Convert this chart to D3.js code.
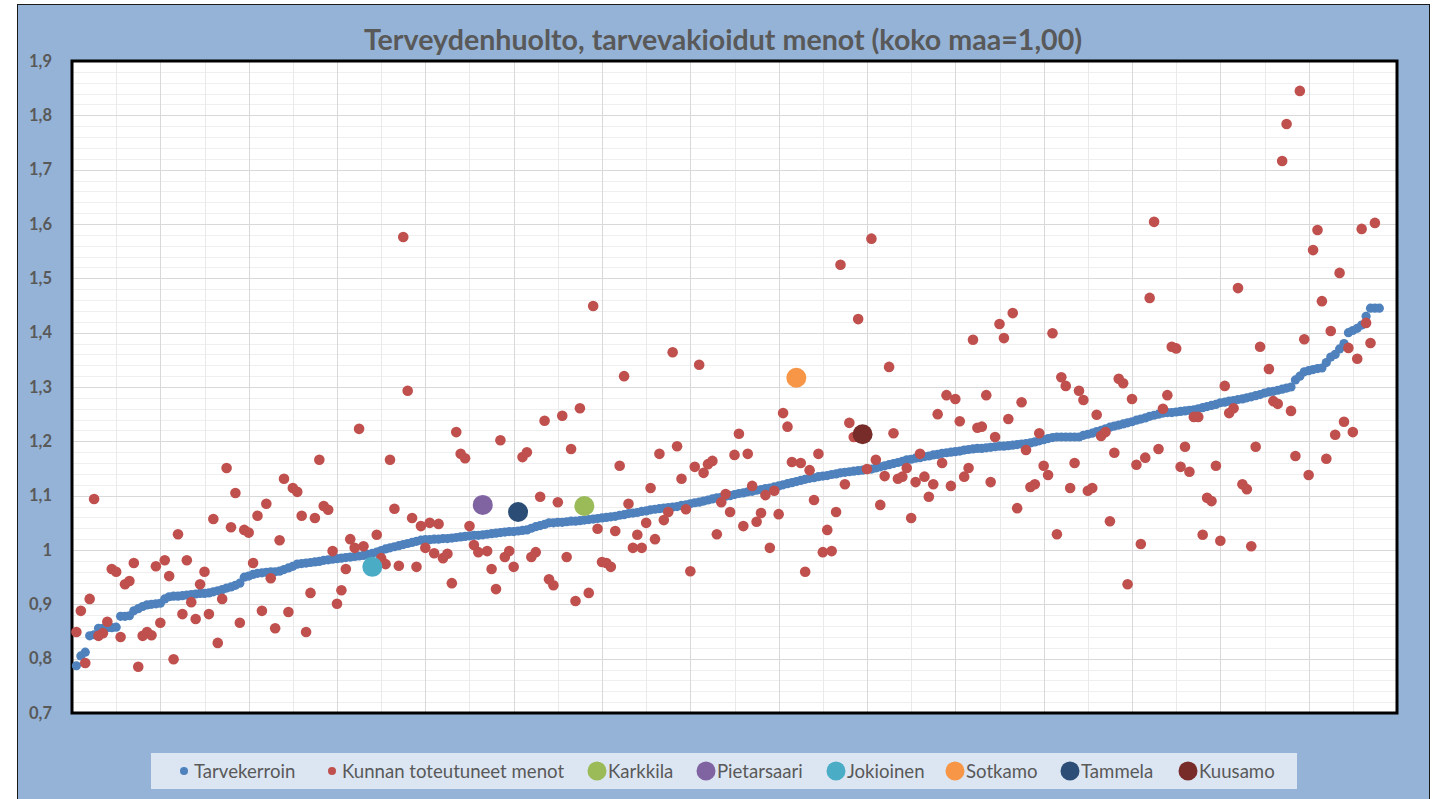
<!DOCTYPE html>
<html>
<head>
<meta charset="utf-8">
<script src="https://cdn.jsdelivr.net/npm/d3@7"></script>
<style>
  body { margin: 0; background: #fff; }
  svg { display: block; }
  text { font-family: Lato, 'Open Sans', sans-serif; }
</style>
</head>
<body>
<div id="chart"></div>
<script>
const chartTitle = 'Terveydenhuolto, tarvevakioidut menot (koko maa=1,00)';

// Tarvekerroin, kunnat järjestyksessä (1..296)
const tarvekerroin = [
  0.787, 0.805, 0.812, 0.842, 0.844, 0.856, 0.856, 0.857, 0.857, 0.858,
  0.878, 0.878, 0.879, 0.888, 0.892, 0.896, 0.899, 0.900, 0.901, 0.902,
  0.910, 0.914, 0.915, 0.915, 0.916, 0.917, 0.918, 0.919, 0.920, 0.920,
  0.921, 0.923, 0.925, 0.927, 0.930, 0.932, 0.935, 0.939, 0.950, 0.952,
  0.955, 0.957, 0.958, 0.959, 0.960, 0.960, 0.961, 0.964, 0.967, 0.970,
  0.974, 0.975, 0.976, 0.977, 0.978, 0.979, 0.981, 0.982, 0.983, 0.984,
  0.985, 0.986, 0.987, 0.988, 0.989, 0.990, 0.992, 0.994, 0.996, 0.999,
  1.002, 1.004, 1.006, 1.008, 1.010, 1.012, 1.014, 1.016, 1.018, 1.019,
  1.019, 1.020, 1.020, 1.021, 1.021, 1.022, 1.023, 1.024, 1.025, 1.026,
  1.027, 1.027, 1.028, 1.029, 1.030, 1.031, 1.032, 1.033, 1.034, 1.034,
  1.035, 1.036, 1.037, 1.040, 1.043, 1.045, 1.047, 1.050, 1.050, 1.051,
  1.051, 1.052, 1.053, 1.053, 1.054, 1.055, 1.056, 1.057, 1.058, 1.059,
  1.060, 1.061, 1.062, 1.064, 1.065, 1.067, 1.068, 1.069, 1.071, 1.072,
  1.074, 1.075, 1.076, 1.077, 1.078, 1.079, 1.080, 1.082, 1.083, 1.085,
  1.087, 1.088, 1.090, 1.092, 1.094, 1.096, 1.097, 1.099, 1.100, 1.102,
  1.104, 1.105, 1.107, 1.108, 1.110, 1.111, 1.113, 1.114, 1.116, 1.118,
  1.120, 1.122, 1.124, 1.126, 1.128, 1.130, 1.132, 1.133, 1.135, 1.136,
  1.137, 1.139, 1.140, 1.142, 1.143, 1.144, 1.145, 1.146, 1.147, 1.148,
  1.149, 1.151, 1.153, 1.155, 1.157, 1.159, 1.161, 1.163, 1.166, 1.167,
  1.169, 1.170, 1.172, 1.173, 1.175, 1.176, 1.178, 1.179, 1.180, 1.181,
  1.182, 1.184, 1.185, 1.186, 1.187, 1.187, 1.188, 1.189, 1.190, 1.191,
  1.191, 1.192, 1.193, 1.194, 1.195, 1.196, 1.197, 1.199, 1.201, 1.203,
  1.205, 1.207, 1.208, 1.208, 1.208, 1.208, 1.208, 1.208, 1.211, 1.213,
  1.215, 1.218, 1.220, 1.223, 1.226, 1.228, 1.230, 1.232, 1.234, 1.236,
  1.239, 1.241, 1.243, 1.246, 1.248, 1.250, 1.252, 1.253, 1.253, 1.254,
  1.255, 1.256, 1.257, 1.258, 1.260, 1.262, 1.264, 1.266, 1.268, 1.271,
  1.272, 1.274, 1.275, 1.277, 1.278, 1.280, 1.282, 1.284, 1.286, 1.289,
  1.291, 1.292, 1.294, 1.296, 1.298, 1.300, 1.313, 1.320, 1.328, 1.330,
  1.332, 1.334, 1.335, 1.345, 1.355, 1.360, 1.370, 1.380, 1.400, 1.404,
  1.408, 1.414, 1.430, 1.445, 1.445, 1.445
];

// Kunnan toteutuneet menot: [järjestysnumero, arvo]
const menot = [
  [1, 0.849], [2, 0.888], [3, 0.792], [4, 0.910], [5, 1.094], [6, 0.842], [7, 0.847], [8, 0.868],
  [9, 0.965], [10, 0.960], [11, 0.840], [12, 0.937], [13, 0.943], [14, 0.976], [15, 0.785], [16, 0.842],
  [17, 0.849], [18, 0.843], [19, 0.970], [20, 0.866], [21, 0.981], [22, 0.952], [23, 0.799], [24, 1.029],
  [25, 0.882], [26, 0.981], [27, 0.904], [28, 0.873], [29, 0.937], [30, 0.960], [31, 0.882], [32, 1.057],
  [33, 0.829], [34, 0.910], [35, 1.151], [36, 1.042], [37, 1.105], [38, 0.866], [39, 1.037], [40, 1.032],
  [41, 0.976], [42, 1.063], [43, 0.888], [44, 1.085], [45, 0.948], [46, 0.856], [47, 1.018], [48, 1.131],
  [49, 0.886], [50, 1.114], [51, 1.107], [52, 1.063], [53, 0.849], [54, 0.921], [55, 1.059], [56, 1.166],
  [57, 1.081], [58, 1.074], [59, 0.998], [60, 0.901], [61, 0.926], [62, 0.965], [63, 1.020], [64, 1.004],
  [65, 1.223], [66, 1.007], [69, 1.028], [70, 0.985], [71, 0.974], [72, 1.166], [73, 1.076], [74, 0.971],
  [75, 1.576], [76, 1.293], [77, 1.059], [78, 0.969], [79, 1.044], [80, 1.004], [81, 1.050], [82, 0.994],
  [83, 1.048], [84, 0.985], [85, 0.993], [86, 0.939], [87, 1.217], [88, 1.177], [89, 1.169], [90, 1.044],
  [91, 1.009], [92, 0.996], [94, 0.998], [95, 0.965], [96, 0.928], [97, 1.202], [98, 0.987], [99, 0.998],
  [100, 0.969], [102, 1.171], [103, 1.180], [104, 0.987], [105, 0.996], [106, 1.098], [107, 1.238], [108, 0.946],
  [109, 0.935], [110, 1.088], [111, 1.247], [112, 0.987], [113, 1.186], [114, 0.906], [115, 1.261], [117, 0.921],
  [118, 1.449], [119, 1.039], [120, 0.978], [121, 0.976], [122, 0.969], [123, 1.035], [124, 1.155], [125, 1.320],
  [126, 1.085], [127, 1.004], [128, 1.028], [129, 1.004], [130, 1.050], [131, 1.114], [132, 1.020], [133, 1.177],
  [134, 1.055], [135, 1.070], [136, 1.364], [137, 1.191], [138, 1.131], [139, 1.075], [140, 0.961], [141, 1.153],
  [142, 1.341], [143, 1.142], [144, 1.158], [145, 1.164], [146, 1.029], [147, 1.088], [148, 1.103], [149, 1.070],
  [150, 1.175], [151, 1.214], [152, 1.044], [153, 1.177], [154, 1.118], [155, 1.052], [156, 1.068], [157, 1.101],
  [158, 1.004], [159, 1.109], [160, 1.066], [161, 1.252], [162, 1.227], [163, 1.162], [165, 1.160], [166, 0.960],
  [167, 1.147], [168, 1.092], [169, 1.177], [170, 0.996], [171, 1.037], [172, 0.998], [173, 1.070], [174, 1.525],
  [175, 1.121], [176, 1.234], [177, 1.208], [178, 1.425], [180, 1.149], [181, 1.573], [182, 1.166], [183, 1.083],
  [184, 1.136], [185, 1.337], [186, 1.215], [187, 1.131], [188, 1.135], [189, 1.151], [190, 1.059], [191, 1.125],
  [192, 1.177], [193, 1.135], [194, 1.098], [195, 1.121], [196, 1.250], [197, 1.160], [198, 1.285], [199, 1.118],
  [200, 1.278], [201, 1.237], [202, 1.135], [203, 1.151], [204, 1.387], [205, 1.225], [206, 1.227], [207, 1.285],
  [208, 1.125], [209, 1.208], [210, 1.416], [211, 1.390], [212, 1.241], [213, 1.436], [214, 1.077], [215, 1.272],
  [216, 1.184], [217, 1.116], [218, 1.121], [219, 1.215], [220, 1.155], [221, 1.138], [222, 1.399], [223, 1.029],
  [224, 1.318], [225, 1.302], [226, 1.114], [227, 1.160], [228, 1.293], [229, 1.276], [230, 1.109], [231, 1.114],
  [232, 1.249], [233, 1.210], [234, 1.217], [235, 1.053], [236, 1.179], [237, 1.315], [238, 1.307], [239, 0.937],
  [240, 1.278], [241, 1.157], [242, 1.011], [243, 1.170], [244, 1.464], [245, 1.604], [246, 1.186], [247, 1.260],
  [248, 1.285], [249, 1.374], [250, 1.371], [251, 1.153], [252, 1.190], [253, 1.144], [254, 1.245], [255, 1.245],
  [256, 1.028], [257, 1.096], [258, 1.090], [259, 1.155], [260, 1.017], [261, 1.302], [262, 1.252], [263, 1.261],
  [264, 1.482], [265, 1.121], [266, 1.112], [267, 1.007], [268, 1.190], [269, 1.374], [271, 1.333], [272, 1.274],
  [273, 1.269], [274, 1.716], [275, 1.784], [276, 1.256], [277, 1.173], [278, 1.845], [279, 1.388], [280, 1.138],
  [281, 1.552], [282, 1.589], [283, 1.458], [284, 1.168], [285, 1.403], [286, 1.212], [287, 1.510], [288, 1.236],
  [289, 1.372], [290, 1.217], [291, 1.352], [292, 1.591], [293, 1.418], [294, 1.381], [295, 1.602]
];

// Korostetut kunnat
const kunnat = ['Karkkila', 'Pietarsaari', 'Jokioinen', 'Sotkamo', 'Tammela', 'Kuusamo'];
const kuntaNro = [116, 93, 68, 164, 101, 179];
const kuntaMenot = [1.081, 1.083, 0.969, 1.317, 1.070, 1.213];
const kuntaColors = ['#9BBB59', '#8064A2', '#4BACC6', '#F79646', '#2C4D75', '#772C2A'];

const seriesNames = ['Tarvekerroin', 'Kunnan toteutuneet menot'];
const seriesColors = ['#4F81BD', '#C0504D'];

const yTicks = [0.7, 0.8, 0.9, 1.0, 1.1, 1.2, 1.3, 1.4, 1.5, 1.6, 1.7, 1.8, 1.9];
const yTickLabels = ['0,7', '0,8', '0,9', '1', '1,1', '1,2', '1,3', '1,4', '1,5', '1,6', '1,7', '1,8', '1,9'];

const W = 1438, H = 799;
const plot = { left: 72, right: 1397, top: 61, bottom: 713 };

const svg = d3.select('#chart').append('svg')
  .attr('width', W)
  .attr('height', H);

// chart frame
svg.append('rect')
  .attr('x', 17.5).attr('y', 4.5)
  .attr('width', 1412).attr('height', 830)
  .attr('fill', '#95B3D7')
  .attr('stroke', '#1a1a1a')
  .attr('stroke-width', 1);

const x = d3.scaleLinear().domain([0, 300]).range([plot.left, plot.right]);
const y = d3.scaleLinear().domain([0.7, 1.9]).range([plot.bottom, plot.top]);

svg.append('rect')
  .attr('x', plot.left).attr('y', plot.top)
  .attr('width', plot.right - plot.left).attr('height', plot.bottom - plot.top)
  .attr('fill', '#fff');

// minor grid first, then major
const grid = svg.append('g').attr('class', 'grid');
grid.selectAll('.hminor')
  .data(d3.range(0.72, 1.9, 0.02).filter(v => Math.abs(v * 10 - Math.round(v * 10)) > 0.01))
  .join('line')
  .attr('x1', plot.left).attr('x2', plot.right)
  .attr('y1', d => Math.round(y(d)) + 0.5).attr('y2', d => Math.round(y(d)) + 0.5)
  .attr('stroke', '#EFEFEF');
grid.selectAll('.vminor')
  .data(d3.range(10, 300, 20))
  .join('line')
  .attr('y1', plot.top).attr('y2', plot.bottom)
  .attr('x1', d => Math.round(x(d)) + 0.5).attr('x2', d => Math.round(x(d)) + 0.5)
  .attr('stroke', '#EAEAEA');
grid.selectAll('.hmajor')
  .data(yTicks.slice(1, -1))
  .join('line')
  .attr('x1', plot.left).attr('x2', plot.right)
  .attr('y1', d => Math.round(y(d)) + 0.5).attr('y2', d => Math.round(y(d)) + 0.5)
  .attr('stroke', '#D9D9D9');
grid.selectAll('.vmajor')
  .data(d3.range(20, 300, 20))
  .join('line')
  .attr('y1', plot.top).attr('y2', plot.bottom)
  .attr('x1', d => Math.round(x(d)) + 0.5).attr('x2', d => Math.round(x(d)) + 0.5)
  .attr('stroke', '#D9D9D9');

// y axis labels
const yAxis = d3.axisLeft(y)
  .tickValues(yTicks)
  .tickSize(0)
  .tickPadding(20)
  .tickFormat((d, i) => yTickLabels[i]);

svg.append('g')
  .attr('class', 'y-axis')
  .attr('transform', `translate(${plot.left},0)`)
  .call(yAxis)
  .call(g => g.select('.domain').remove())
  .selectAll('text')
  .style('font-family', 'Lato, sans-serif')
  .style('font-size', '16.5px')
  .style('font-weight', 'bold')
  .style('fill', '#595959');

// plot border
svg.append('rect')
  .attr('x', plot.left).attr('y', plot.top)
  .attr('width', plot.right - plot.left).attr('height', plot.bottom - plot.top)
  .attr('fill', 'none')
  .attr('stroke', '#000')
  .attr('stroke-width', 3);

// Tarvekerroin
svg.append('g').selectAll('circle')
  .data(tarvekerroin)
  .join('circle')
  .attr('cx', (d, i) => x(i + 1))
  .attr('cy', d => y(d))
  .attr('r', 4.6)
  .attr('fill', seriesColors[0]);

// Kunnan toteutuneet menot
svg.append('g').selectAll('circle')
  .data(menot)
  .join('circle')
  .attr('cx', d => x(d[0]))
  .attr('cy', d => y(d[1]))
  .attr('r', 5.3)
  .attr('fill', seriesColors[1]);

// highlighted municipalities
svg.append('g').selectAll('circle')
  .data(kunnat)
  .join('circle')
  .attr('cx', (d, i) => x(kuntaNro[i]))
  .attr('cy', (d, i) => y(kuntaMenot[i]))
  .attr('r', 10)
  .attr('fill', (d, i) => kuntaColors[i]);

// title
svg.append('text')
  .attr('x', 723).attr('y', 50)
  .attr('text-anchor', 'middle')
  .style('font-size', '28.6px')
  .style('font-weight', 'bold')
  .style('fill', '#595959')
  .text(chartTitle);

// legend
const legendItems = seriesNames.map((n, i) => ({ name: n, color: seriesColors[i], r: 4 }))
  .concat(kunnat.map((n, i) => ({ name: n, color: kuntaColors[i], r: 9.5 })));
const legendX = [184, 332, 597, 706, 836, 955, 1070, 1188];

svg.append('rect')
  .attr('x', 151).attr('y', 753)
  .attr('width', 1146).attr('height', 36)
  .attr('fill', '#DCE6F2');

const legend = svg.append('g').attr('class', 'legend')
  .selectAll('g')
  .data(legendItems)
  .join('g')
  .attr('transform', (d, i) => `translate(${legendX[i]},771)`);

legend.append('circle')
  .attr('r', d => d.r)
  .attr('fill', d => d.color);

legend.append('text')
  .attr('x', d => d.r > 5 ? 11 : 10)
  .attr('dy', '0.35em')
  .style('font-size', '18.6px')
  .style('fill', '#595959')
  .text(d => d.name);
</script>
</body>
</html>
